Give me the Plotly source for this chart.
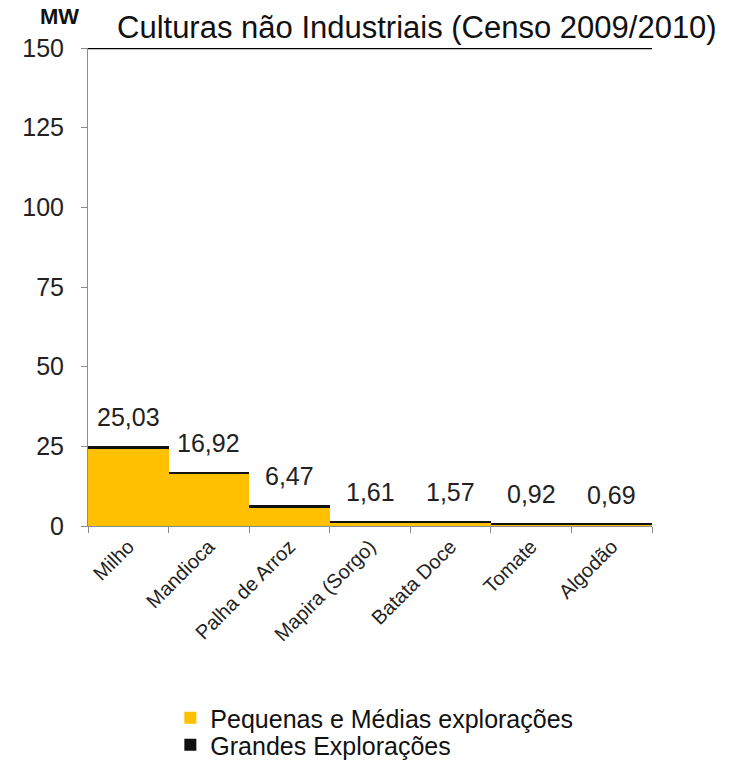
import plotly.graph_objects as go

# Potência (MW) por cultura — Censo 2009/2010
categorias = ["Milho", "Mandioca", "Palha de Arroz", "Mapira (Sorgo)",
              "Batata Doce", "Tomate", "Algodão"]
totais = [25.03, 16.92, 6.47, 1.61, 1.57, 0.92, 0.69]
grandes = [0.8, 0.55, 0.55, 0.4, 0.4, 0.35, 0.3]
pequenas = [round(t - g, 2) for t, g in zip(totais, grandes)]
rotulos = [f"{v:.2f}".replace(".", ",") for v in totais]
y_ticks = [0, 25, 50, 75, 100, 125, 150]

AMARELO = "#FFC000"
PRETO = "#111111"
FONTE = "Liberation Sans, Arial, sans-serif"

fig = go.Figure()
fig.add_trace(go.Bar(x=categorias, y=pequenas, name="Pequenas e Médias explorações",
                     marker=dict(color=AMARELO, line=dict(width=0)), legend="legend"))
fig.add_trace(go.Bar(x=categorias, y=grandes, name="Grandes Explorações",
                     marker=dict(color=PRETO, line=dict(width=0)), legend="legend2"))

for c, t, r in zip(categorias, totais, rotulos):
    fig.add_annotation(x=c, y=t, text=r, showarrow=False, yanchor="bottom",
                       yshift=13, font=dict(family=FONTE, size=25, color="#222"))

# linha superior do gráfico em 150
fig.add_shape(type="line", xref="paper", yref="y", x0=0, x1=1, y0=150, y1=150,
              line=dict(color="black", width=2.5))

fig.add_annotation(xref="paper", yref="paper", x=0.048, y=1.0, yanchor="bottom",
                   xanchor="left", yshift=1, text="Culturas não Industriais (Censo 2009/2010)",
                   showarrow=False, font=dict(family=FONTE, size=31, color="#111"))
fig.add_annotation(xref="paper", yref="paper", x=-0.05, y=1.0, yanchor="bottom",
                   xanchor="center", yshift=17, text="<b>MW</b>",
                   showarrow=False, font=dict(family=FONTE, size=22, color="#111"))

leg_font = dict(family=FONTE, size=25, color="#111")
fig.update_layout(
    barmode="stack",
    bargap=0,
    width=736, height=762,
    margin=dict(l=88, r=84, t=48, b=236, autoexpand=False),
    plot_bgcolor="white", paper_bgcolor="white",
    showlegend=True,
    legend=dict(x=0.146, xanchor="left", yref="container", y=0.0577, yanchor="middle",
                font=leg_font, itemwidth=30, bgcolor="rgba(0,0,0,0)"),
    legend2=dict(x=0.146, xanchor="left", yref="container", y=0.0223, yanchor="middle",
                 font=leg_font, itemwidth=30, bgcolor="rgba(0,0,0,0)"),
    xaxis=dict(showline=True, linecolor="#8c8c8c", linewidth=1,
               ticks="outside", tickson="boundaries", ticklen=6, tickcolor="#8c8c8c",
               tickangle=-45, tickfont=dict(family=FONTE, size=20, color="#222"),
               showgrid=False),
    yaxis=dict(range=[0, 150], tickvals=y_ticks, showline=True, linecolor="#8c8c8c",
               linewidth=1, ticks="outside", ticklen=6, tickcolor="#8c8c8c",
               ticklabelstandoff=12,
               tickfont=dict(family=FONTE, size=25, color="#222"), showgrid=False,
               zeroline=False),
)

fig.write_html("out.html")
